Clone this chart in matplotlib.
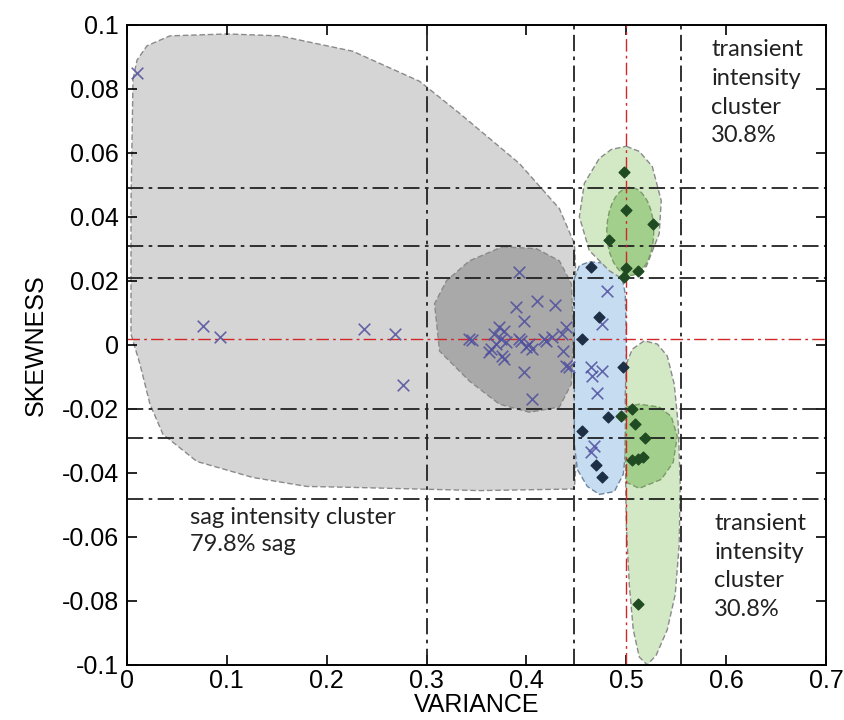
import matplotlib
matplotlib.use("Agg")
import matplotlib.pyplot as plt
from matplotlib.patches import Polygon, Ellipse

plt.rcParams['axes.unicode_minus'] = False

# cluster outlines (variance, skewness)
sag_outer = [(0.006, 0.083), (0.010, 0.089), (0.020, 0.0935), (0.043, 0.0966), (0.100, 0.0972),
             (0.153, 0.0966), (0.226, 0.0918), (0.293, 0.0824), (0.333, 0.0724), (0.393, 0.0567),
             (0.433, 0.0426), (0.448, 0.0317), (0.451, 0.0129), (0.451, -0.031), (0.448, -0.045),
             (0.353, -0.0455), (0.226, -0.0445), (0.180, -0.0442), (0.126, -0.0414), (0.070, -0.0364),
             (0.036, -0.0279), (0.023, -0.0185), (0.013, -0.006), (0.004, 0.0034), (0.004, 0.044)]
sag_inner = [(0.376, 0.0307), (0.410, 0.0301), (0.433, 0.0263), (0.445, 0.0191), (0.447, 0.0034),
             (0.445, -0.0122), (0.433, -0.0194), (0.403, -0.021), (0.373, -0.0185), (0.343, -0.0113),
             (0.313, -0.0019), (0.308, 0.0129), (0.320, 0.0201), (0.343, 0.0263)]
mid_zone = [(0.448, 0.0207), (0.453, 0.0248), (0.463, 0.026), (0.485, 0.0254), (0.495, 0.0223),
            (0.499, 0.016), (0.500, 0.0034), (0.500, -0.031), (0.497, -0.0404), (0.488, -0.0458),
            (0.473, -0.0467), (0.461, -0.0442), (0.451, -0.0389), (0.448, -0.031)]
trans_up_outer = [(0.500, 0.0621), (0.513, 0.0605), (0.526, 0.0558), (0.535, 0.0451), (0.533, 0.0348),
                  (0.520, 0.0245), (0.496, 0.0207), (0.483, 0.0232), (0.463, 0.0295), (0.453, 0.0401),
                  (0.458, 0.0505), (0.473, 0.0583), (0.485, 0.0611)]
trans_up_inner_center = (0.504, 0.0355)
trans_up_inner_size = (0.047, 0.0275)
trans_low_outer = [(0.500, -0.006), (0.506, -0.0013), (0.518, 0.0013), (0.531, 0.0003), (0.541, -0.0034),
                   (0.548, -0.0122), (0.552, -0.0248), (0.554, -0.0436), (0.553, -0.0624), (0.549, -0.078),
                   (0.541, -0.089), (0.530, -0.0969), (0.521, -0.1), (0.513, -0.0975), (0.507, -0.089),
                   (0.503, -0.0749), (0.500, -0.0561), (0.499, -0.0342), (0.499, -0.0154)]
trans_low_inner = [(0.500, -0.0194), (0.513, -0.0185), (0.533, -0.0194), (0.545, -0.0223), (0.551, -0.0285),
                   (0.547, -0.0367), (0.535, -0.042), (0.513, -0.0448), (0.500, -0.0429), (0.499, -0.031)]

# sag events (x markers)
sag_var = [0.010, 0.076, 0.093, 0.237, 0.268, 0.276,
           0.393, 0.411, 0.429, 0.390, 0.398, 0.342, 0.345, 0.373, 0.368, 0.378, 0.375, 0.380,
           0.370, 0.365, 0.363, 0.376, 0.378, 0.393, 0.395, 0.400, 0.406, 0.403, 0.418, 0.420,
           0.426, 0.436, 0.440, 0.437, 0.440, 0.443, 0.398, 0.406,
           0.481, 0.476, 0.465, 0.466, 0.476, 0.471, 0.468, 0.465]
sag_skew = [0.085, 0.006, 0.0025, 0.005, 0.0034, -0.0125,
            0.0229, 0.0138, 0.0125, 0.0119, 0.0075, 0.0019, 0.0017, 0.0056, 0.0034, 0.0044, 0.0019, 0.0009,
            0.0003, -0.0013, -0.0022, -0.0034, -0.0044, 0.0019, 0.0013, -0.0006, -0.0013, 0.0003, 0.0019, 0.0013,
            0.0025, 0.0034, 0.0056, -0.0019, -0.0066, -0.0069, -0.0085, -0.0169,
            0.017, 0.0066, -0.0069, -0.0097, -0.0082, -0.015, -0.0317, -0.0335]

# transient events (diamonds) in the middle zone
mid_var = [0.465, 0.473, 0.456, 0.497, 0.482, 0.456, 0.470, 0.476]
mid_skew = [0.0245, 0.0088, 0.0019, -0.0069, -0.0226, -0.027, -0.0376, -0.0411]

# transient events (diamonds) in the green clusters
tr_var = [0.498, 0.500, 0.527, 0.483, 0.500, 0.512, 0.498,
          0.495, 0.506, 0.509, 0.519, 0.506, 0.512, 0.517, 0.512]
tr_skew = [0.0542, 0.0423, 0.0379, 0.0329, 0.0241, 0.0232, 0.0213,
           -0.0223, -0.0201, -0.0248, -0.0292, -0.036, -0.0357, -0.0351, -0.0809]

vlines_black = [0.300, 0.448, 0.555]
hlines_black = [0.049, 0.031, 0.021, -0.020, -0.029, -0.048]
vline_red = 0.500
hline_red = 0.002

xticks = [0, 0.1, 0.2, 0.3, 0.4, 0.5, 0.6, 0.7]
xtick_labels = ['0', '0.1', '0.2', '0.3', '0.4', '0.5', '0.6', '0.7']
yticks = [-0.1, -0.08, -0.06, -0.04, -0.02, 0, 0.02, 0.04, 0.06, 0.08, 0.1]
ytick_labels = ['-0.1', '-0.08', '-0.06', '-0.04', '-0.02', '0', '0.02', '0.04', '0.06', '0.08', '0.1']

fig = plt.figure(figsize=(8.45, 7.2), dpi=100)
ax = fig.add_axes([0.1503, 0.0764, 0.8272, 0.8889])

edge = '#8a8a8a'
patch_kw = dict(closed=True, linestyle=(0, (4, 2)), linewidth=1.0, edgecolor=edge, joinstyle='round')
ax.add_patch(Polygon(sag_outer, facecolor='#d5d5d5', zorder=1, **patch_kw))
ax.add_patch(Polygon(sag_inner, facecolor='#a9a9a9', zorder=2, **patch_kw))
ax.add_patch(Polygon(mid_zone, facecolor='#c6dcf1', zorder=2,
                     closed=True, linestyle=(0, (4, 2)), linewidth=1.0, edgecolor='#6d87a3'))
ax.add_patch(Polygon(trans_up_outer, facecolor='#d3e9c6', zorder=2, **patch_kw))
ax.add_patch(Ellipse(trans_up_inner_center, *trans_up_inner_size, facecolor='#a3cf8c',
                     linestyle=(0, (4, 2)), linewidth=1.0, edgecolor='#7a9a6a', zorder=3))
ax.add_patch(Polygon(trans_low_outer, facecolor='#d3e9c6', zorder=2, **patch_kw))
ax.add_patch(Polygon(trans_low_inner, facecolor='#a3cf8c', zorder=3,
                     closed=True, linestyle=(0, (4, 2)), linewidth=1.0, edgecolor='#7a9a6a'))

dashdot = (0, (9, 3, 2, 3))
for xv in vlines_black:
    ax.axvline(xv, color='#222222', linestyle=dashdot, linewidth=1.3, zorder=4)
for yv in hlines_black:
    ax.axhline(yv, color='#222222', linestyle=dashdot, linewidth=1.3, zorder=4)
ax.axvline(vline_red, color='#d02828', linestyle=dashdot, linewidth=1.0, zorder=4)
ax.axhline(hline_red, color='#d02828', linestyle=dashdot, linewidth=1.0, zorder=4)

ax.scatter(sag_var, sag_skew, marker='x', s=70, linewidths=1.2, color='#4f4f9e', alpha=0.85, zorder=5)
ax.scatter(mid_var, mid_skew, marker='D', s=30, color='#1d2f44', zorder=5)
ax.scatter(tr_var, tr_skew, marker='D', s=30, color='#1f4a22', zorder=5)

txt_font = ['Lato', 'DejaVu Sans']
ax.text(0.585, 0.0955, 'transient\nintensity\ncluster\n30.8%', fontsize=17, family=txt_font,
        va='top', ha='left', linespacing=1.45, color='#222222', zorder=6)
ax.text(0.588, -0.0525, 'transient\nintensity\ncluster\n30.8%', fontsize=17, family=txt_font,
        va='top', ha='left', linespacing=1.45, color='#222222', zorder=6)
ax.text(0.063, -0.0505, 'sag intensity cluster\n79.8% sag', fontsize=17, family=txt_font,
        va='top', ha='left', linespacing=1.4, color='#222222', zorder=6)

ax.set_xlim(0, 0.7)
ax.set_ylim(-0.1, 0.1)
tick_font = ['Liberation Sans Narrow', 'Liberation Sans']
ax.set_xticks(xticks)
ax.set_xticklabels(xtick_labels, fontsize=18, family=tick_font)
ax.set_yticks(yticks)
ax.set_yticklabels(ytick_labels, fontsize=18, family=tick_font)
ax.tick_params(direction='in', length=7, width=1.2, top=True, right=True)
ax.tick_params(axis='x', pad=3)
ax.tick_params(axis='y', pad=6)
ax.set_xlabel('VARIANCE', fontsize=18, family=tick_font, labelpad=0)
ax.set_ylabel('SKEWNESS', fontsize=18, family=tick_font, labelpad=10)
for sp in ax.spines.values():
    sp.set_linewidth(1.4)
    sp.set_zorder(7)

fig.savefig('out.png', dpi=100)
